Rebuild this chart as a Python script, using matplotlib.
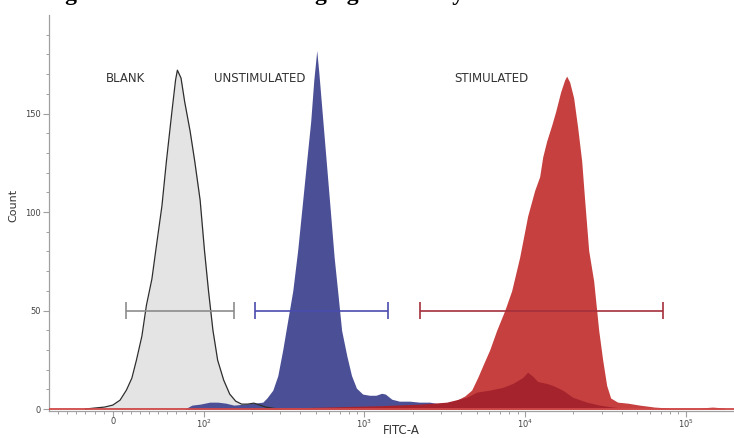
# Overlay of FITC-A histograms: blank, unstimulated and stimulated samples
import matplotlib
matplotlib.use('Agg')
import matplotlib.pyplot as plt
from matplotlib.ticker import FixedLocator, NullFormatter

# FITC-A intensity and event counts for each sample
blank_x = [-30, -20, -9, 0, 8, 15, 21, 26, 32, 37, 43, 48, 54, 59, 65, 69, 71, 75, 79, 85,
           90, 96, 101, 107, 114, 122, 133, 145, 158, 172, 188, 205, 223, 243, 265, 290]
blank_count = [0, 0.5, 1, 2, 4.5, 9.6, 15.7, 24.8, 37, 52.7, 66, 83, 103, 126, 151, 167, 172, 168, 156, 141,
               126, 106, 80.5, 60, 40, 24.8, 14.7, 7.6, 4, 2.5, 2.5, 3, 2, 1, 0.5, 0]

unstim_x = [79, 87, 96, 109, 122, 137, 154, 180, 208, 233, 247, 269, 289, 310, 333, 358,
            384, 413, 437, 463, 484, 505, 520, 545, 578, 613, 648, 685, 721, 777, 831, 892,
            975, 1075, 1180, 1280, 1350, 1480, 1650, 1910, 2200, 2550, 2950, 3400, 3900, 4500]
unstim_count = [0, 2, 2.5, 3.5, 3.5, 3, 2, 2.5, 3, 3.5, 5.6, 9.6, 17, 30, 45, 60,
                80.5, 106, 126, 146, 167, 182, 171, 151, 126, 101, 77, 58, 40, 27, 17, 10.6,
                7.6, 7, 7, 8, 7.6, 5, 4, 4, 3.5, 3.5, 2.5, 2, 1, 0.5]

stim_x = [1245, 1660, 2210, 2940, 3650, 4210, 4650, 5070, 5520, 6020, 6660, 7470, 8250, 9250,
          10380, 11480, 12330, 12880, 13630, 14640, 15500, 16660, 17630, 18150, 18950, 20060,
          21250, 22510, 23500, 24890, 26740, 28730, 30410, 32210, 34110, 37700, 43500, 51600,
          64000, 79400, 122000, 147000, 174600]
stim_count = [0.5, 1, 1.5, 2.5, 4, 6.6, 9.6, 16, 23, 30, 40, 50, 60, 77,
              98, 111, 118, 128, 136, 144, 151, 161, 167, 169, 166, 158,
              143, 126, 106, 80.5, 65, 40, 25, 12, 5.6, 3.5, 3, 2,
              1, 0.5, 0.5, 1, 0.5]

# second, weaker stimulated population
dim_x = [193, 396, 702, 1245, 2210, 3250, 4340, 5000, 6020, 7260, 8380, 9670, 10380, 11140,
         11970, 13630, 14850, 17140, 19780, 24150, 29110, 35100, 44800]
dim_count = [0.2, 0.7, 1.2, 1.7, 2.5, 3.5, 6, 8.6, 9.6, 11, 13, 16, 18.7, 16.7,
             14, 13, 12, 9.6, 6, 3.5, 2, 1, 0.2]

# range gates (low, high) drawn at one count level
gate_low = [15, 208, 2210]
gate_high = [154, 1397, 71800]
gate_level = 50

sample_names = ['BLANK', 'UNSTIMULATED', 'STIMULATED']
x_ticks = [0, 1e2, 1e3, 1e4, 1e5]
x_tick_labels = ['0', '$10^2$', '$10^3$', '$10^4$', '$10^5$']
y_ticks = [0, 50, 100, 150]

gray_fill = '#e4e4e4'
blue = '#4b5096'
red_light = '#c5403f'
red_dark = '#a5232c'
gate_colors = ['#8c8c8c', '#4a4cae', '#a5303c']
label_color = '#333333'

fig = plt.figure(figsize=(7.34, 4.38), dpi=100)
ax = fig.add_axes([0.0668, 0.0616, 0.959, 0.9041])

ax.set_xscale('symlog', linthresh=100, linscale=0.51)
ax.set_xlim(-70, 262144)
ax.set_ylim(-1, 200)

# histograms
ax.fill_between(blank_x, blank_count, color=gray_fill, lw=0, zorder=2)
ax.fill_between(unstim_x, unstim_count, color=blue, lw=0, zorder=3)
ax.fill_between(stim_x, stim_count, color=red_light, lw=0, zorder=4)
ax.fill_between(dim_x, dim_count, color=red_dark, lw=0, zorder=5)
ax.plot(blank_x, blank_count, color='#2e2e2e', lw=0.9, zorder=6)
ax.axhline(0, color='#d04848', lw=1.3, zorder=6)

# gates
for lo, hi, c in zip(gate_low, gate_high, gate_colors):
    ax.hlines(gate_level, lo, hi, color=c, lw=1.2, zorder=7)
    ax.vlines([lo, hi], gate_level - 4.5, gate_level + 4.5, color=c, lw=1.2, zorder=7)

# sample names above each peak
for name, xpos in zip(sample_names, [14, 223, 6190]):
    ax.text(xpos, 168, name, ha='center', va='center', fontsize=8.5,
            color=label_color, zorder=8)

# axes styling
for side in ['top', 'right']:
    ax.spines[side].set_visible(False)
for side in ['left', 'bottom']:
    ax.spines[side].set_color('#a0a0a0')
    ax.spines[side].set_linewidth(0.9)

ax.xaxis.set_major_locator(FixedLocator(x_ticks))
ax.set_xticklabels(x_tick_labels)
minor_x = [v for v in range(-60, 100, 10) if v != 0]
for d in [100, 1000, 10000]:
    minor_x += [m * d for m in range(2, 10)]
minor_x += [2e5]
ax.xaxis.set_minor_locator(FixedLocator(minor_x))
ax.xaxis.set_minor_formatter(NullFormatter())

ax.yaxis.set_major_locator(FixedLocator(y_ticks))
ax.yaxis.set_minor_locator(FixedLocator([v for v in range(10, 200, 10) if v % 50]))

ax.tick_params(axis='both', which='major', length=4, width=0.8, color='#a0a0a0',
               labelsize=6, labelcolor='#444444', pad=2)
ax.tick_params(axis='x', which='major', pad=0.5)
ax.tick_params(axis='both', which='minor', length=2.5, width=0.7, color='#a0a0a0')

ax.set_xlabel('FITC-A', fontsize=8.5, color=label_color)
ax.xaxis.set_label_coords(0.5, -0.033)
ax.set_ylabel('Count', fontsize=8, color=label_color)
ax.yaxis.set_label_coords(-0.044, 0.52)

# heading of the page, mostly above the figure edge
fig.text(0.06, 0.999, 'Figure 3. Fluorescence imaging of cells by flow',
         fontsize=17, fontweight='bold', family='Liberation Serif', va='baseline')

fig.savefig('out.png', dpi=100)
